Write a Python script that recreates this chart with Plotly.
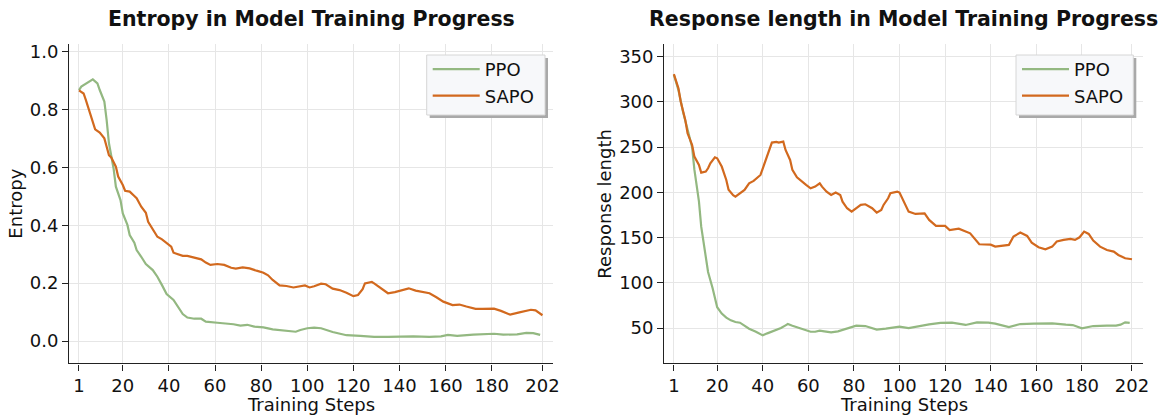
import plotly.graph_objects as go

W, H = 1162, 415

# ---------------- data ----------------
ent_ppo_steps = [1, 2, 7, 9, 10, 12, 13, 14, 16, 17, 19, 20, 22, 23, 25, 26, 28, 30, 33, 35, 37, 39, 42, 44,
                 46, 48, 51, 54, 56, 61, 65, 68, 71, 74, 77, 81, 85, 90, 95, 97, 100, 103, 106, 111, 117,
                 123, 129, 135, 140, 146, 153, 158, 161, 165, 172, 181, 185, 191, 195, 198, 201]
ent_ppo = [0.867, 0.879, 0.904, 0.890, 0.867, 0.827, 0.763, 0.683, 0.596, 0.533, 0.487, 0.441, 0.401, 0.366,
           0.340, 0.314, 0.291, 0.266, 0.245, 0.222, 0.193, 0.162, 0.142, 0.119, 0.093, 0.081, 0.077, 0.077,
           0.067, 0.063, 0.060, 0.058, 0.053, 0.056, 0.050, 0.047, 0.040, 0.035, 0.032, 0.038, 0.044, 0.046,
           0.044, 0.031, 0.020, 0.018, 0.014, 0.014, 0.016, 0.016, 0.014, 0.016, 0.021, 0.018, 0.022, 0.025,
           0.022, 0.023, 0.028, 0.027, 0.021]

ent_sapo_steps = [1, 3, 4, 6, 7, 8, 10, 12, 13, 14, 15, 17, 18, 20, 21, 23, 25, 26, 28, 30, 31, 33, 35, 37,
                  39, 41, 42, 44, 46, 48, 51, 54, 56, 58, 61, 64, 67, 69, 72, 75, 78, 81, 83, 85, 88, 91, 94,
                  97, 99, 101, 103, 106, 108, 111, 114, 117, 120, 122, 124, 125, 128, 129, 132, 135, 138, 141,
                  144, 147, 150, 153, 156, 159, 163, 166, 169, 173, 176, 181, 184, 188, 192, 197, 199, 202]
ent_sapo = [0.866, 0.855, 0.832, 0.781, 0.752, 0.731, 0.720, 0.700, 0.671, 0.642, 0.634, 0.602, 0.568, 0.539,
            0.519, 0.516, 0.501, 0.493, 0.464, 0.443, 0.412, 0.387, 0.360, 0.351, 0.337, 0.326, 0.305, 0.299,
            0.294, 0.294, 0.289, 0.282, 0.271, 0.263, 0.266, 0.263, 0.253, 0.250, 0.254, 0.251, 0.243, 0.236,
            0.227, 0.211, 0.192, 0.190, 0.185, 0.189, 0.192, 0.185, 0.189, 0.198, 0.196, 0.181, 0.176, 0.167,
            0.155, 0.159, 0.179, 0.199, 0.204, 0.199, 0.182, 0.165, 0.169, 0.176, 0.182, 0.174, 0.170, 0.165,
            0.151, 0.136, 0.124, 0.126, 0.119, 0.111, 0.111, 0.112, 0.104, 0.091, 0.099, 0.108, 0.106, 0.089]

len_ppo_steps = [1, 3, 5, 7, 9, 10, 12, 13, 15, 16, 18, 19, 20, 22, 24, 26, 28, 30, 32, 34, 37, 39, 40, 42,
                 45, 48, 50, 51, 53, 56, 58, 61, 63, 65, 67, 70, 73, 75, 78, 81, 85, 88, 90, 94, 96, 100,
                 104, 109, 113, 118, 123, 129, 134, 139, 142, 148, 153, 159, 163, 167, 173, 176, 180, 185,
                 191, 195, 197, 199, 201]
len_ppo = [330, 313, 289, 269, 250, 225, 190, 162, 131, 112, 94, 83, 73, 66, 61.5, 58.5, 56.6, 55.9, 52.2,
           49.3, 45.9, 43.0, 41.9, 44.1, 47.1, 50.0, 52.9, 54.4, 52.6, 50.0, 47.8, 45.9, 45.9, 47.1, 46.3,
           45.2, 46.3, 47.8, 50.7, 52.6, 52.2, 50.0, 48.2, 49.3, 50.0, 51.6, 50.0, 52.5, 54.1, 55.6, 56.0,
           53.4, 56.3, 56.0, 54.8, 51.1, 54.4, 54.8, 54.8, 55.2, 53.7, 53.3, 49.6, 52.2, 52.6, 52.6, 53.7,
           56.3, 55.6]

len_sapo_steps = [1, 3, 4, 6, 7, 9, 10, 12, 13, 15, 16, 17, 19, 20, 22, 24, 25, 27, 28, 30, 32, 34, 36, 39,
                  40, 42, 43, 44, 46, 47, 49, 50, 52, 53, 55, 57, 59, 61, 63, 65, 66, 68, 70, 72, 74, 75, 77,
                  79, 81, 83, 85, 88, 90, 92, 93, 95, 96, 99, 100, 102, 104, 107, 111, 113, 116, 120, 122,
                  126, 129, 131, 135, 140, 142, 148, 150, 153, 156, 158, 161, 164, 167, 169, 172, 175, 177,
                  179, 181, 183, 185, 188, 191, 194, 196, 199, 202]
len_sapo = [330.6, 315.1, 300.4, 280.1, 265.3, 252.4, 239.5, 230.3, 221.8, 222.9, 226.6, 232.2, 238.8, 237.7,
            228.5, 213.7, 203.0, 196.8, 195.3, 199.0, 202.7, 210.0, 212.6, 219.2, 226.6, 240.3, 248.7, 255.0,
            255.8, 255.0, 256.1, 246.9, 235.8, 224.8, 216.7, 211.9, 208.2, 204.5, 206.3, 210.0, 206.3, 200.8,
            197.1, 199.7, 197.1, 189.7, 182.4, 178.7, 182.4, 186.1, 186.8, 182.4, 177.6, 180.5, 186.1, 193.4,
            199.0, 200.8, 199.7, 189.7, 178.7, 176.1, 176.8, 169.5, 162.9, 162.9, 158.4, 159.9, 156.6, 154.7,
            142.6, 142.2, 140.0, 141.9, 151.1, 155.5, 151.8, 144.4, 139.3, 137.1, 140.0, 145.6, 147.4, 148.5,
            147.4, 150.3, 156.6, 154.0, 146.7, 140.0, 136.3, 134.5, 130.8, 127.1, 126.0]

tick_vals = [1, 20, 40, 60, 80, 100, 120, 140, 160, 180, 202]
tick_text = ["1", "20", "40", "60", "80", "100", "120", "140", "160", "180", "202"]
ent_ticks = [0.0, 0.2, 0.4, 0.6, 0.8, 1.0]
ent_tick_text = ["0.0", "0.2", "0.4", "0.6", "0.8", "1.0"]
len_ticks = [50, 100, 150, 200, 250, 300, 350]

titles = ["Entropy in Model Training Progress", "Response length in Model Training Progress"]
y_titles = ["Entropy", "Response length"]
x_title = "Training Steps"

PPO_C = "#93b881"
SAPO_C = "#d2691e"

# ---------------- layout helpers ----------------
def px_x(p):
    return p / W

def px_y(p):
    return (H - p) / H

X1 = (69.3, 553.3)
X2 = (664.3, 1142.7)
YT, YB = 44.0, 363.3

fig = go.Figure()
fig.add_trace(go.Scatter(x=ent_ppo_steps, y=ent_ppo, name="PPO", mode="lines",
                         line=dict(color=PPO_C, width=2.2), xaxis="x", yaxis="y", legend="legend"))
fig.add_trace(go.Scatter(x=ent_sapo_steps, y=ent_sapo, name="SAPO", mode="lines",
                         line=dict(color=SAPO_C, width=2.2), xaxis="x", yaxis="y", legend="legend"))
fig.add_trace(go.Scatter(x=len_ppo_steps, y=len_ppo, name="PPO", mode="lines",
                         line=dict(color=PPO_C, width=2.2), xaxis="x2", yaxis="y2", legend="legend2"))
fig.add_trace(go.Scatter(x=len_sapo_steps, y=len_sapo, name="SAPO", mode="lines",
                         line=dict(color=SAPO_C, width=2.2), xaxis="x2", yaxis="y2", legend="legend2"))

FONT = "DejaVu Sans"
axis_common = dict(showline=True, linecolor="#222222", linewidth=1.4, ticks="outside", ticklen=6,
                   tickwidth=1.3, tickcolor="#222222", showgrid=True, gridcolor="#e6e6e6", gridwidth=1,
                   zeroline=False, tickfont=dict(family=FONT, size=18, color="#111111"), mirror=False,
                   automargin=False)

ydom = [px_y(YB), px_y(YT)]
fig.update_layout(
    width=W, height=H, margin=dict(l=0, r=0, t=0, b=0, autoexpand=False),
    paper_bgcolor="white", plot_bgcolor="white",
    font=dict(family=FONT, size=18, color="#111111"),
    xaxis=dict(domain=[px_x(X1[0]), px_x(X1[1])], range=[-3.2, 206.7], tickvals=tick_vals,
               ticktext=tick_text, anchor="y", **axis_common),
    yaxis=dict(domain=ydom, range=[-0.077, 1.026], tickvals=ent_ticks, ticktext=ent_tick_text, anchor="x",
               **axis_common),
    xaxis2=dict(domain=[px_x(X2[0]), px_x(X2[1])], range=[-3.2, 206.7], tickvals=tick_vals,
                ticktext=tick_text, anchor="y2", **axis_common),
    yaxis2=dict(domain=ydom, range=[11, 364], tickvals=len_ticks, anchor="x2", **axis_common),
    showlegend=True,
)

# legends (box drawn as shapes to get the exact box and shadow)
LEG = [(426.7, 545.0), (1016.0, 1133.3)]
LT, LB = 55.0, 115.0
leg_common = dict(bgcolor="rgba(0,0,0,0)", borderwidth=0, font=dict(family=FONT, size=18, color="#111111"),
                  xanchor="left", yanchor="top", itemwidth=47, tracegroupgap=0)
fig.update_layout(
    legend=dict(x=px_x(LEG[0][0] + 1), y=px_y(LT - 4), **leg_common),
    legend2=dict(x=px_x(LEG[1][0] + 1), y=px_y(LT - 4), **leg_common),
)
shapes = []
for (l, r) in LEG:
    shapes.append(dict(type="rect", xref="paper", yref="paper", x0=px_x(l + 3), x1=px_x(r + 3),
                       y0=px_y(LB + 3), y1=px_y(LT + 3), fillcolor="#a9a9a9", line=dict(width=0),
                       layer="above"))
    shapes.append(dict(type="rect", xref="paper", yref="paper", x0=px_x(l), x1=px_x(r),
                       y0=px_y(LB), y1=px_y(LT), fillcolor="#f7f8fa", line=dict(color="#d6d6d6", width=1),
                       layer="above"))
fig.update_layout(shapes=shapes)

# subplot titles and axis titles
for i, (a, b) in enumerate([X1, X2]):
    fig.add_annotation(text="<b>" + titles[i] + "</b>", xref="paper", yref="paper",
                       x=px_x((a + b) / 2), y=px_y(19), xanchor="center", yanchor="middle",
                       showarrow=False, font=dict(family=FONT, size=20.5, color="#111111"))
    fig.add_annotation(text=x_title, xref="paper", yref="paper",
                       x=px_x((a + b) / 2), y=px_y(404), xanchor="center", yanchor="middle",
                       showarrow=False, font=dict(family=FONT, size=18, color="#111111"))
for xc, t in [(16, y_titles[0]), (605, y_titles[1])]:
    fig.add_annotation(text=t, xref="paper", yref="paper", x=px_x(xc), y=px_y((YT + YB) / 2),
                       xanchor="center", yanchor="middle", textangle=-90, showarrow=False,
                       font=dict(family=FONT, size=18, color="#111111"))

fig.write_html("out.html", config={"displayModeBar": False},
               post_script="document.body.style.margin='0';document.body.style.overflow='hidden';")
